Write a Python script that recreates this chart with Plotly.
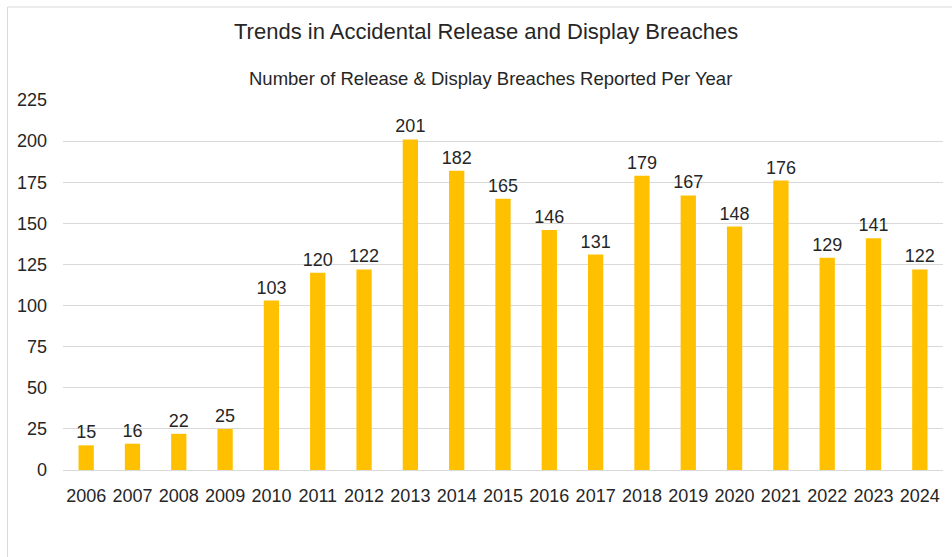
import plotly.graph_objects as go

years = ["2006", "2007", "2008", "2009", "2010", "2011", "2012", "2013", "2014", "2015",
         "2016", "2017", "2018", "2019", "2020", "2021", "2022", "2023", "2024"]
breaches = [15, 16, 22, 25, 103, 120, 122, 201, 182, 165,
            146, 131, 179, 167, 148, 176, 129, 141, 122]
y_ticks = [0, 25, 50, 75, 100, 125, 150, 175, 200, 225]

FONT = "Liberation Sans, Arial, sans-serif"
TEXT = "#262626"

fig = go.Figure(
    go.Bar(
        x=years,
        y=breaches,
        marker=dict(color="#FFC000", line=dict(width=0)),
        text=[str(v) for v in breaches],
        textposition="outside",
        constraintext="none",
        cliponaxis=False,
        textfont=dict(family=FONT, size=18, color=TEXT),
    )
)

fig.update_layout(
    width=952,
    height=557,
    margin=dict(l=63, r=9, t=100, b=87),
    paper_bgcolor="white",
    plot_bgcolor="white",
    bargap=0.67,
    showlegend=False,
    uniformtext=dict(mode=False),
    font=dict(family=FONT, color=TEXT),
    annotations=[
        dict(text="Trends in Accidental Release and Display Breaches",
             xref="paper", yref="paper", x=(486 - 63) / 880, y=(470.5 - 32) / 370,
             xanchor="center", yanchor="middle", showarrow=False,
             font=dict(family=FONT, size=22, color=TEXT)),
        dict(text="Number of Release & Display Breaches Reported Per Year",
             xref="paper", yref="paper", x=(490 - 63) / 880, y=(470.5 - 79) / 370,
             xanchor="center", yanchor="middle", showarrow=False,
             font=dict(family=FONT, size=18.5, color=TEXT)),
    ],
    shapes=[
        dict(type="rect", xref="paper", yref="paper",
             x0=(7.5 - 63) / 880, x1=1.2, y0=-0.5, y1=(470.5 - 7.5) / 370,
             line=dict(color="#D9D9D9", width=1), fillcolor="rgba(0,0,0,0)",
             layer="below"),
    ],
)

fig.update_xaxes(
    type="category",
    showgrid=False,
    showline=True,
    linecolor="#D9D9D9",
    linewidth=1,
    ticks="",
    tickfont=dict(family=FONT, size=18, color=TEXT),
    ticklabelstandoff=9,
)
fig.update_yaxes(
    range=[0, 225],
    tickvals=y_ticks,
    showgrid=True,
    gridcolor="#D9D9D9",
    gridwidth=1,
    zeroline=False,
    showline=False,
    ticks="",
    tickfont=dict(family=FONT, size=18, color=TEXT),
    ticklabelstandoff=15,
)

fig.write_html("out.html")
